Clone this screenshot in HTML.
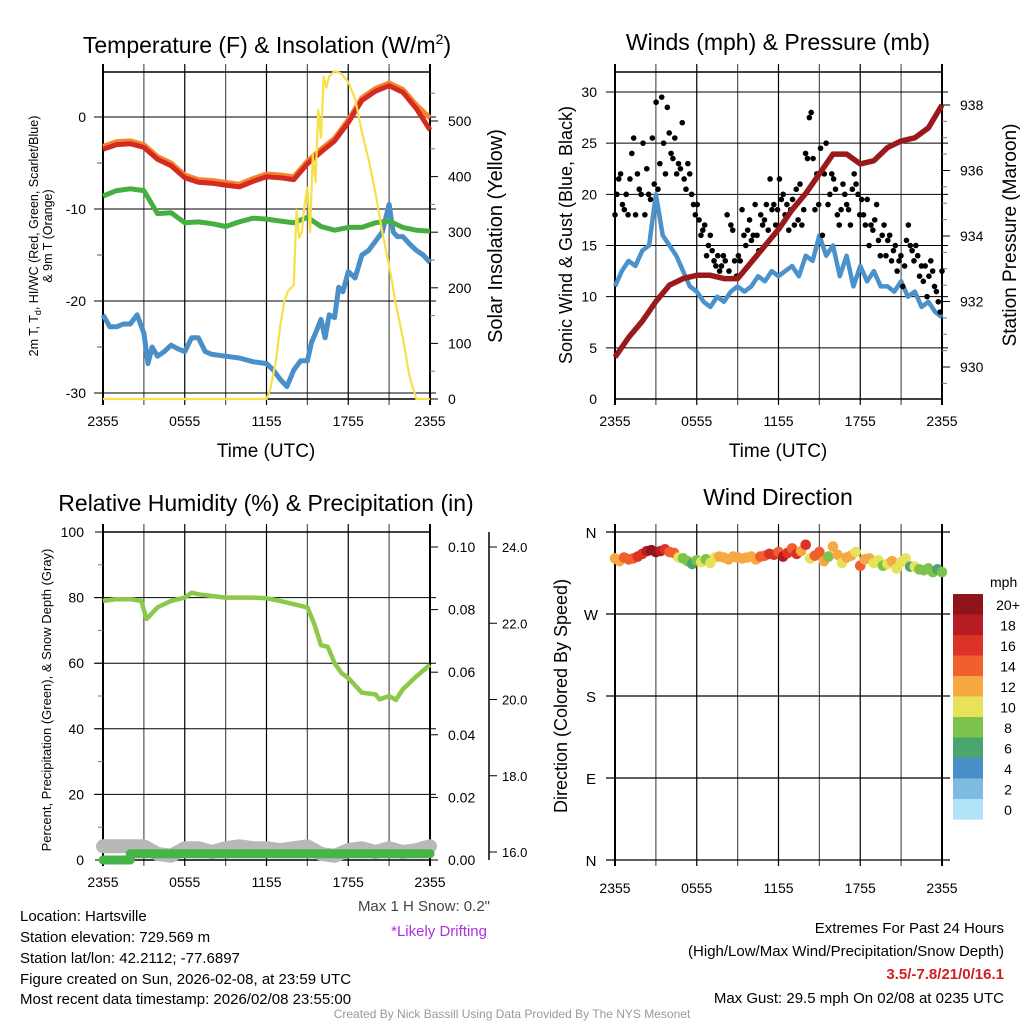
<!DOCTYPE html>
<html><head><meta charset="utf-8">
<style>
html,body{margin:0;padding:0;background:#fff;}
svg{display:block;font-family:"Liberation Sans",sans-serif;}
</style></head>
<body>
<svg id="c" width="1024" height="1024" viewBox="0 0 1024 1024" xmlns="http://www.w3.org/2000/svg">
<g font-size="23" text-anchor="middle" fill="#000">
<text x="267" y="53">Temperature (F) &amp; Insolation (W/m<tspan font-size="14" dy="-9">2</tspan><tspan dy="9">)</tspan></text>
<text x="778" y="50">Winds (mph) &amp; Pressure (mb)</text>
<text x="266" y="511">Relative Humidity (%) &amp; Precipitation (in)</text>
<text x="778" y="505">Wind Direction</text>
</g>
<g id="layer"></g>
<g font-size="15" fill="#000">
<text x="20" y="921">Location: Hartsville</text>
<text x="20" y="942">Station elevation: 729.569 m</text>
<text x="20" y="963">Station lat/lon: 42.2112; -77.6897</text>
<text x="20" y="984">Figure created on Sun, 2026-02-08, at 23:59 UTC</text>
<text x="20" y="1004">Most recent data timestamp: 2026/02/08 23:55:00</text>
<text x="490" y="911" text-anchor="end" fill="#444">Max 1 H Snow: 0.2"</text>
<text x="487" y="936" text-anchor="end" fill="#b030e0">*Likely Drifting</text>
<text x="1004" y="933" text-anchor="end">Extremes For Past 24 Hours</text>
<text x="1004" y="956" text-anchor="end">(High/Low/Max Wind/Precipitation/Snow Depth)</text>
<text x="1004" y="979" text-anchor="end" fill="#d02020" font-weight="bold">3.5/-7.8/21/0/16.1</text>
<text x="1004" y="1003" text-anchor="end">Max Gust: 29.5 mph On 02/08 at 0235 UTC</text>
<text x="512" y="1018" text-anchor="middle" fill="#999" font-size="12">Created By Nick Bassill Using Data Provided By The NYS Mesonet</text>
</g>
</svg>
<script>
const xTickLabels=["2355","0555","1155","1755","2355"];
const hours=[0,1,2,3,4,5,6,7,8,9,10,11,12,13,14,15,16,17,18,19,20,21,22,23,24];
const tempT=[-3.5,-3.0,-2.9,-3.3,-4.6,-5.3,-6.6,-7.1,-7.2,-7.4,-7.6,-7.0,-6.5,-6.6,-6.8,-5.1,-3.8,-2.6,-0.6,1.8,2.8,3.4,2.7,0.9,-1.4];
const temp9m=[-3.2,-2.7,-2.6,-3.0,-4.3,-5.0,-6.3,-6.8,-6.9,-7.1,-7.3,-6.7,-6.2,-6.3,-6.5,-4.8,-3.5,-2.3,-0.3,2.1,3.1,3.7,3.0,1.3,-0.1];
const wcT=[-8.6,-8.0,-7.8,-8.0,-10.5,-10.4,-11.5,-11.4,-11.6,-11.9,-11.4,-11.0,-11.1,-11.3,-11.5,-10.9,-11.9,-12.3,-12.0,-12.0,-11.5,-11.3,-12.0,-12.3,-12.4];
const dewTimes=[0,0.5,1,1.5,2,2.5,3,3.3,3.6,4,4.5,5,5.5,6,6.5,7,7.5,8,9,10,11,12,12.5,13,13.5,14,14.5,15,15.3,15.6,16,16.3,16.6,17,17.3,17.6,18,18.5,19,19.5,20,20.5,21,21.3,21.6,22,22.5,23,23.5,24];
const dewV=[-21.5,-22.8,-22.8,-22.5,-22.5,-21.5,-23.5,-26.8,-25.0,-26.0,-25.5,-24.8,-25.2,-25.5,-24.0,-24.0,-25.5,-25.8,-26.0,-26.2,-26.6,-26.8,-27.5,-28.5,-29.3,-27.5,-26.5,-26.5,-24.5,-23.5,-22.0,-24.0,-21.5,-21.8,-18.5,-19.0,-16.8,-17.5,-15.0,-14.5,-13.5,-12.5,-9.5,-12.5,-13.0,-13.0,-13.8,-14.5,-15.0,-15.8];
const solarTimes=[0,12.0,12.3,12.7,13.0,13.3,13.6,14.0,14.2,14.4,14.6,14.8,15.0,15.2,15.4,15.6,15.8,16.0,16.2,16.4,16.6,17,17.5,18,18.5,19,19.5,20,20.5,21,21.5,22,22.5,23,24];
const solarV=[0,0,20,70,130,175,195,205,340,290,300,350,380,300,440,390,520,470,580,560,580,590,585,570,540,480,430,370,300,240,170,110,40,0,0];
const windSpd=[11,12.5,13.5,13,14.5,15,20,16,15,14,12.5,11,10.5,9.5,9,10,9.5,10.5,11,10.5,11,12,11.5,12.5,12,12.5,13,12,14,13.5,16,14,15,12,14,11,13,11.5,12.5,11,11,10.5,11.5,10,10.5,9,9.5,8.5,8];
const pressure=[930.3,930.9,931.4,932.0,932.5,932.7,932.8,932.8,932.7,932.7,933.2,933.7,934.2,934.8,935.3,935.9,936.5,936.5,936.2,936.3,936.7,936.9,937.0,937.3,938.0];
const gusts=[18,20,21.5,22,19,18.5,20,18,21.5,24,25.5,18,22,20.5,20,25,18,22.5,20,19.5,25.5,21,29,20.5,23,29.5,25,22,28.5,26,24,23.5,25.5,22,23,22.5,27,21.5,20.5,23,22,20,19,18,19,17.5,16,16.5,17,14,15,16,14.5,13.5,13,14,12.5,13,14,13.5,18,12.5,17,16.5,13.5,12,14,13.5,18.5,16,15,16.5,17.5,15.5,16,19,16,14.5,18,17,17.5,19,16.5,21.5,18.5,19,17,18.5,21.5,19.5,20,18,19,16.5,18.5,19.5,17,20.5,17.5,21,17,18.5,24,23.5,27.5,28,23.5,18.5,22,19,24.5,16,22,25,19,20,22,21.5,20.5,18,17,18.5,21,20,19,18.5,17,20.5,22,21,20,18,19.5,18,17,19.5,15,17,16.5,17.5,19,15.5,14,16,17,14,15.5,16,13.5,14.5,15,12.5,13.5,14,11,13,15.5,17,15,14.5,13.5,15,14,12,13,11.5,13,10,12,13.5,12.5,11,10.5,9.5,8.5,12.5];
const rhTimes=[0,1,2,2.8,3.2,4,5,6,6.5,7,8,9,10,11,12,13,14,15,15.5,16,16.5,17,17.5,18,19,20,20.3,21,21.5,22,23,24];
const rhV=[79,79.5,79.5,79,73.5,77,79,80,81.5,81,80.5,80,80,80,79.8,79,78,77,72,65.5,65,60,57,55.5,51,50.5,49,50,48.8,52,56,59.5];
const precipT=[0,2,2,24];
const precipV=[0,0,0.002,0.002];
const snowT=[0,1,2,3,4,5,6,7,8,9,10,11,12,13,14,15,16,17,18,19,20,21,22,23,24];
const snowV=[16.15,16.15,16.15,16.15,15.95,15.9,16.1,16.1,16.0,16.1,16.15,16.1,16.1,16.05,16.1,16.15,15.95,15.9,16.05,16.1,16.0,16.1,16.0,16.05,16.15];
const dirV=[331,328,332,330,331,333,336,339,340,338,339,341,338,337,332,331,328,325,329,327,330,326,332,333,332,330,333,332,331,332,333,330,333,334,336,335,338,333,337,342,336,339,346,331,334,338,328,333,344,335,326,332,334,338,323,330,331,326,329,323,325,328,320,327,331,322,322,319,318,320,316,319,316];
const dirSpd=[12,13,14,14,15,16,17,19,21,20,18,17,15,14,10,9,8,7,9,10,9,10,11,12,12,12,12,13,12,12,13,13,14,15,16,17,15,18,16,14,17,13,17,10,15,14,12,9,12,13,10,12,13,11,15,12,12,11,10,9,11,12,10,11,10,6,10,9,8,8,8,7,8];
const legendLabels=["20+","18","16","14","12","10","8","6","4","2","0"];
const legendColors=["#8f1419","#b71c23","#dc3328","#f0602c","#f6a843","#e6e35a","#7dc24a","#4aa56e","#4a90c8","#7fbae3","#b3e3f8"];

const NS="http://www.w3.org/2000/svg";
const layer=document.getElementById('layer');
function mk(tag,attrs,parent){const e=document.createElementNS(NS,tag);for(const k in attrs)e.setAttribute(k,attrs[k]);(parent||layer).appendChild(e);return e;}
function txt(x,y,s,attrs,parent){const e=mk('text',Object.assign({x:x,y:y},attrs||{}),parent);e.textContent=s;return e;}
const W=327;
function xScale(x0){return t=>x0+t*W/24;}
function yScale(y0,v0,y1,v1){return v=>y0+(v-v0)*(y1-y0)/(v1-v0);}
function pathD(ts,vs,xf,yf){return ts.map((t,i)=>(i?'L':'M')+xf(t).toFixed(1)+','+yf(vs[i]).toFixed(1)).join('');}
function frame(g,x0,y0,y1,hVals,yf){
  for(let i=0;i<=8;i++){const x=x0+i*W/8;mk('line',{x1:x,x2:x,y1:y0-8,y2:y1+6,stroke:(i%2?'#555':'#000'),'stroke-width':(i===0||i===8)?2:1.2},g);}
  hVals.forEach(v=>{const y=yf(v);mk('line',{x1:x0-9,x2:x0+W+6,y1:y,y2:y,stroke:'#000','stroke-width':1},g);});
  mk('rect',{x:x0,y:y0,width:W,height:y1-y0,fill:'none',stroke:'#000','stroke-width':1.5},g);
  xTickLabels.forEach((s,i)=>{txt(x0+i*W/4,y1+27,s,{'font-size':14,'text-anchor':'middle'},g);});
}

/* ---------- Panel 1: Temperature ---------- */
(function(){
const g=mk('g',{});


const x=xScale(103), y=yScale(117,0,393,-30), ys=yScale(399,0,121,500);
frame(g,103,72,399,[0,-10,-20,-30],y);
[0,-10,-20,-30].forEach(v=>txt(86,y(v)+5,String(v),{'font-size':14,'text-anchor':'end'},g));
[-5,-15,-25].forEach(v=>mk('line',{x1:97,x2:103,y1:y(v),y2:y(v),stroke:'#555'},g));
[0,100,200,300,400,500].forEach(v=>{mk('line',{x1:430,x2:438,y1:ys(v),y2:ys(v),stroke:'#000'},g);txt(448,ys(v)+5,String(v),{'font-size':14},g);});
[50,150,250,350,450,550].forEach(v=>mk('line',{x1:430,x2:435,y1:ys(v),y2:ys(v),stroke:'#777'},g));
const dew=mk('path',{d:pathD(dewTimes,dewV,x,y),fill:'none',stroke:'#4a8fc8','stroke-width':5,'stroke-linejoin':'round'},g);


const wc=mk('path',{d:pathD(hours,wcT,x,y),fill:'none',stroke:'#45b040','stroke-width':5,'stroke-linejoin':'round'},g);


const o=mk('path',{d:pathD(hours,temp9m,x,y),fill:'none',stroke:'#f5842e','stroke-width':5,'stroke-linejoin':'round'},g);


const r=mk('path',{d:pathD(hours,tempT,x,y),fill:'none',stroke:'#d42a22','stroke-width':5,'stroke-linejoin':'round'},g);


const s=mk('path',{d:pathD(solarTimes,solarV,x,ys),fill:'none',stroke:'#f8e048','stroke-width':2.2,'stroke-linejoin':'round'},g);


txt(266,457,'Time (UTC)',{'font-size':19,'text-anchor':'middle'},g);
const yl=mk('g',{transform:'translate(38,236) rotate(-90)'},g);
const t1=mk('text',{x:0,y:0,'font-size':12.5,'text-anchor':'middle'},yl);
t1.innerHTML='2m T, T<tspan font-size="9" dy="3">d</tspan><tspan dy="-3">, HI/WC (Red, Green, Scarlet/Blue)</tspan>';
const tt=mk('g',{transform:'translate(52,236) rotate(-90)'},g);
txt(0,0,'& 9m T (Orange)',{'font-size':12.5,'text-anchor':'middle'},tt);
const rl=mk('g',{transform:'translate(502,236) rotate(-90)'},g);
txt(0,0,'Solar Insolation (Yellow)',{'font-size':20,'text-anchor':'middle'},rl);
})();

/* ---------- Panel 2: Winds ---------- */
(function(){
const g=mk('g',{});


const x=xScale(615), y=yScale(399,0,92,30), yp=yScale(367,930,105,938);
frame(g,615,72,399,[5,10,15,20,25,30],y);
[0,5,10,15,20,25,30].forEach(v=>txt(597,y(v)+5,String(v),{'font-size':14,'text-anchor':'end'},g));
[930,932,934,936,938].forEach(v=>{mk('line',{x1:942,x2:950,y1:yp(v),y2:yp(v),stroke:'#000'},g);txt(960,yp(v)+5,String(v),{'font-size':14},g);});
[929.5,930.5,931,931.5,932.5,933,933.5,934.5,935,935.5,936.5,937,937.5].forEach(v=>mk('line',{x1:942,x2:947,y1:yp(v),y2:yp(v),stroke:'#777'},g));
const wT=windSpd.map((v,i)=>i*24/(windSpd.length-1));
const b=mk('path',{d:pathD(wT,windSpd,x,y),fill:'none',stroke:'#4a92cc','stroke-width':4.5,'stroke-linejoin':'round'},g);


const step=24/(gusts.length-1);
gusts.forEach((v,i)=>{const c=mk('circle',{cx:x(i*step),cy:y(v),r:2.8,fill:'#000'},g);

});
const p=mk('path',{d:pathD(hours,pressure,x,yp),fill:'none',stroke:'#9a1a1c','stroke-width':5.5,'stroke-linejoin':'round'},g);


txt(778,457,'Time (UTC)',{'font-size':19,'text-anchor':'middle'},g);
const yl=mk('g',{transform:'translate(572,235) rotate(-90)'},g);
txt(0,0,'Sonic Wind & Gust (Blue, Black)',{'font-size':18,'text-anchor':'middle'},yl);
const rl=mk('g',{transform:'translate(1016,235) rotate(-90)'},g);
txt(0,0,'Station Pressure (Maroon)',{'font-size':19,'text-anchor':'middle'},rl);
})();

/* ---------- Panel 3: RH ---------- */
(function(){
const g=mk('g',{});


const x=xScale(103), y=yScale(860,0,532,100), yp=yScale(860,0,547,0.10), ysn=yScale(852,16,547,24);
frame(g,103,532,860,[20,40,60,80],y);
[0,20,40,60,80,100].forEach(v=>{mk('line',{x1:95,x2:103,y1:y(v),y2:y(v),stroke:'#000'},g);txt(84,y(v)+5,String(v),{'font-size':14,'text-anchor':'end'},g);});
[10,30,50,70,90].forEach(v=>mk('line',{x1:98,x2:103,y1:y(v),y2:y(v),stroke:'#777'},g));
[0,0.02,0.04,0.06,0.08,0.10].forEach(v=>{mk('line',{x1:430,x2:438,y1:yp(v),y2:yp(v),stroke:'#000'},g);txt(448,yp(v)+5,v.toFixed(2),{'font-size':14},g);});
mk('line',{x1:489,x2:489,y1:532,y2:860,stroke:'#000','stroke-width':1.5},g);
[16,18,20,22,24].forEach(v=>{mk('line',{x1:489,x2:497,y1:ysn(v),y2:ysn(v),stroke:'#000'},g);txt(502,ysn(v)+5,v.toFixed(1),{'font-size':13},g);});
const sn=mk('path',{d:pathD(snowT,snowV,x,ysn),fill:'none',stroke:'#b8b8b8','stroke-width':14,'stroke-linecap':'round','stroke-linejoin':'round'},g);


const pr=mk('path',{d:pathD(precipT,precipV,x,yp),fill:'none',stroke:'#46b446','stroke-width':9,'stroke-linecap':'round','stroke-linejoin':'round'},g);


const rh=mk('path',{d:pathD(rhTimes,rhV,x,y),fill:'none',stroke:'#8cc84a','stroke-width':4.5,'stroke-linejoin':'round'},g);


const yl=mk('g',{transform:'translate(51,700) rotate(-90)'},g);
txt(0,0,'Percent, Precipitation (Green), & Snow Depth (Gray)',{'font-size':13,'text-anchor':'middle'},yl);
})();

/* ---------- Panel 4: Wind direction ---------- */
(function(){
const g=mk('g',{});


const x=xScale(615), y=yScale(860,0,532,360);
for(let i=0;i<=8;i++){const xx=615+i*W/8;mk('line',{x1:xx,x2:xx,y1:524,y2:866,stroke:(i%2?'#555':'#000'),'stroke-width':(i===0||i===8)?2:1.2},g);}
[360,270,180,90,0].forEach(v=>mk('line',{x1:606,x2:950,y1:y(v),y2:y(v),stroke:'#000','stroke-width':1.2},g));
["N","W","S","E","N"].forEach((s,i)=>txt(591,y(360-i*90)+6,s,{'font-size':15,'text-anchor':'middle'},g));
xTickLabels.forEach((s,i)=>txt(615+i*W/4,893,s,{'font-size':14,'text-anchor':'middle'},g));
function col(s){const idx=Math.min(10,Math.floor(s/2));return legendColors[10-idx];}
const step=24/(dirV.length-1);
dirV.forEach((d,i)=>{const c=mk('circle',{cx:x(i*step),cy:y(d),r:5.3,fill:col(dirSpd[i])},g);

});
const yl=mk('g',{transform:'translate(567,696) rotate(-90)'},g);
txt(0,0,'Direction (Colored By Speed)',{'font-size':18,'text-anchor':'middle'},yl);
const lg=mk('g',{},g);


txt(990,587,'mph',{'font-size':14},lg);
legendLabels.forEach((s,i)=>{const yy=594+i*20.5;mk('rect',{x:953,y:yy,width:30,height:20.6,fill:legendColors[i]},lg);txt(1008,yy+16,s,{'font-size':14,'text-anchor':'middle'},lg);});
})();
</script>
</body></html>
